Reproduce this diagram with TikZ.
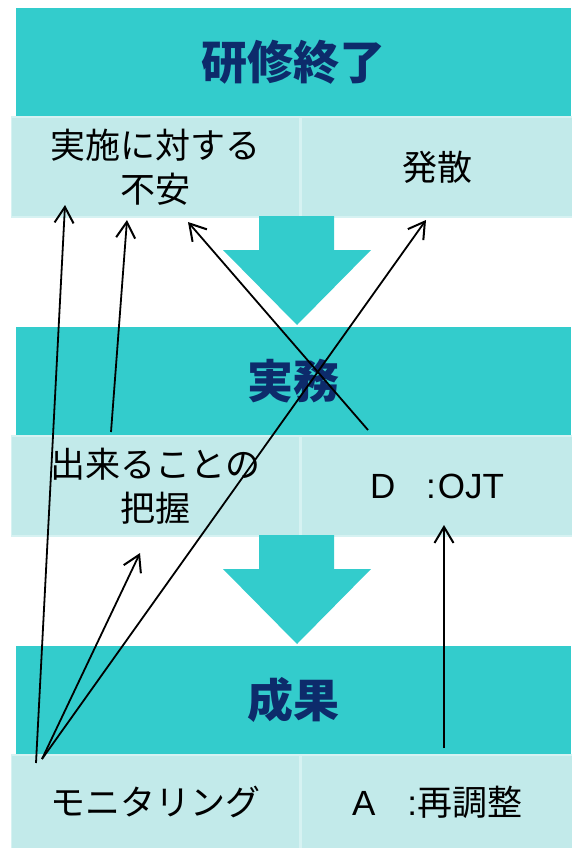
\documentclass[tikz,border=0pt]{standalone}
\usepackage{fontspec}
\setmainfont{Noto Sans CJK JP}
\newfontfamily\latin{Liberation Sans}
\usepackage{tikz}
\usetikzlibrary{positioning, arrows.meta}
\definecolor{bandcyan}{HTML}{33CCCC}
\definecolor{cellcyan}{HTML}{C2EAEA}
\definecolor{celledge}{HTML}{D6F2F2}
\definecolor{titlenavy}{HTML}{0D2B6B}

\begin{document}
\begin{tikzpicture}[x=1pt, y=-1pt,
    band/.style={rectangle, fill=bandcyan, minimum width=555pt, minimum height=108pt, inner sep=0pt, text=titlenavy, font=\fontsize{46}{50}\selectfont\bfseries},
    cell/.style={rectangle, fill=cellcyan, draw=celledge, line width=1.5pt, minimum height=100pt, inner sep=0pt, align=center, font=\fontsize{35}{44}\selectfont},
    down/.style={fill=bandcyan},
    link/.style={-{Straight Barb[length=16pt, width=19pt, line width=2pt]}, line width=1.8pt}]
        \useasboundingbox (0,0) rectangle (571,848);
        \node[band] (end) at (293.5,62) {研修終了};
        \node[cell, minimum width=288pt] (anxiety) [below right = 0pt and -5pt of end.south west] {実施に対する\\不安};
        \node[cell, minimum width=272pt] (spread) [right = 0pt of anxiety] {発散};

        \node[band] (work) at (293.5,381) {実務};
        \node[cell, minimum width=288pt] (grasp) [below right = 0pt and -5pt of work.south west] {出来ることの\\把握};
        \node[cell, minimum width=272pt] (ojt) [right = 0pt of grasp] {{\latin D}\hspace{31pt}{\latin :}\hspace{2pt}{\latin OJT}};

        \node[band] (result) at (293.5,700) {成果};
        \node[cell, minimum width=288pt, minimum height=94pt] (monitor) [below right = 0pt and -5pt of result.south west] {モニタリング};
        \node[cell, minimum width=272pt, minimum height=94pt] (readjust) [right = 0pt of monitor] {{\latin A}\hspace{32pt}{\latin :}再調整};

        % block arrows between the stages
        \foreach \t in {216,535}
            \fill[down] (259,\t) -- (334,\t) -- (334,\t+34) -- (371,\t+34) -- (297,\t+109) -- (223,\t+34) -- (259,\t+34) -- cycle;

        \coordinate (mon1) at (36,763);
        \coordinate (mon2) at (42,759);
        \coordinate (grasp0) at (111,432);
        \coordinate (ojt0) at (368,430);
        \coordinate (re0) at (444,748);
        \coordinate (anx1) at (65,205);
        \coordinate (anx2) at (127,220);
        \coordinate (anx3) at (188,222);
        \coordinate (spread1) at (426,220);
        \coordinate (grasp1) at (140,553);
        \coordinate (ojt1) at (444,525);

        \draw[link] (mon1) -- (anx1);
        \draw[link] (grasp0) -- (anx2);
        \draw[link] (ojt0) -- (anx3);
        \draw[link] (mon2) -- (spread1);
        \draw[link] (mon2) -- (grasp1);
        \draw[link] (re0) -- (ojt1);
    \end{tikzpicture}
\end{document}
